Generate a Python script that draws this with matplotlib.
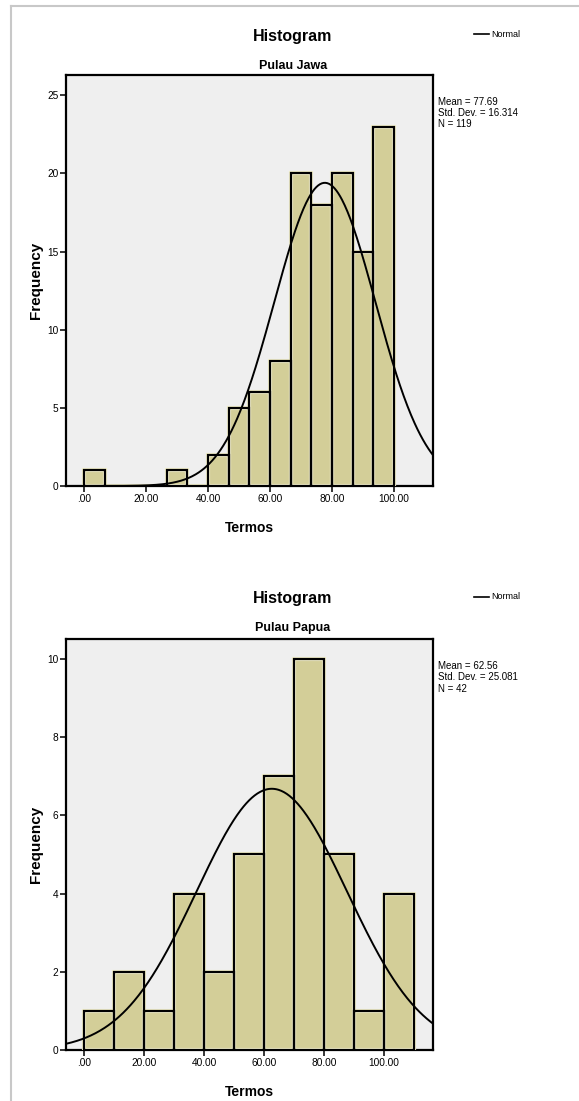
import numpy as np
import matplotlib
matplotlib.use("Agg")
import matplotlib.pyplot as plt
from matplotlib.lines import Line2D
from matplotlib.ticker import FuncFormatter

plt.rcParams['font.family'] = ['Liberation Sans', 'DejaVu Sans']

# Pulau Jawa
jawa_counts = [1, 0, 0, 0, 1, 0, 2, 5, 6, 8, 20, 18, 20, 15, 23]
jawa_bin_start = 0.0
jawa_bin_width = 100.0 / 15
jawa_mean = 77.69
jawa_sd = 16.314
jawa_n = 119
jawa_yticks = [0, 5, 10, 15, 20, 25]

# Pulau Papua
papua_counts = [1, 2, 1, 4, 2, 5, 7, 10, 5, 1, 4]
papua_bin_start = 0.0
papua_bin_width = 10.0
papua_mean = 62.56
papua_sd = 25.081
papua_n = 42
papua_yticks = [0, 2, 4, 6, 8, 10]

xticks = [0, 20, 40, 60, 80, 100]

bar_fill = '#D3CE98'
bg = '#EFEFEF'


def xfmt(v, pos):
    s = f"{v:.2f}"
    return s[1:] if s.startswith("0") else s


def draw_hist(ax, counts, start, width, mean, sd, n, xlim, ylim, yticks):
    counts = np.array(counts)
    lefts = start + width * np.arange(len(counts))
    ax.set_facecolor(bg)
    ax.bar(lefts, counts, width=width, align='edge', color=bar_fill,
           edgecolor='none', zorder=2)
    # light rim around the bars
    ax.bar(lefts, counts, width=width, align='edge', fill=False,
           edgecolor='#F3F0CC', linewidth=3.0, zorder=3)
    ax.bar(lefts, counts, width=width, align='edge', fill=False,
           edgecolor='black', linewidth=1.6, zorder=4)
    xs = np.linspace(xlim[0], xlim[1], 400)
    pdf = np.exp(-0.5 * ((xs - mean) / sd) ** 2) / (sd * np.sqrt(2 * np.pi))
    ax.plot(xs, n * width * pdf, color='black', lw=1.4, zorder=5)
    ax.set_xlim(*xlim)
    ax.set_ylim(*ylim)
    ax.set_xticks(xticks)
    ax.set_yticks(yticks)
    ax.xaxis.set_major_formatter(FuncFormatter(xfmt))
    for s in ax.spines.values():
        s.set_linewidth(1.6)
    ax.tick_params(length=4.5, width=1.1, labelsize=7.3, pad=1)
    ax.set_xlabel('Termos', fontsize=10, fontweight='bold')
    ax.set_ylabel('Frequency', fontsize=11, fontweight='bold')
    ax.xaxis.set_label_coords(0.5, -0.085)
    ax.yaxis.set_label_coords(-0.063, 0.5)


fig = plt.figure(figsize=(5.79, 11.01), dpi=100)

ax1 = fig.add_axes([0.114, 0.5586, 0.634, 0.3733])
draw_hist(ax1, jawa_counts, jawa_bin_start, jawa_bin_width, jawa_mean,
          jawa_sd, jawa_n, (-5.8, 112.6), (0, 26.3), jawa_yticks)

ax2 = fig.add_axes([0.114, 0.0463, 0.634, 0.3733])
draw_hist(ax2, papua_counts, papua_bin_start, papua_bin_width, papua_mean,
          papua_sd, papua_n, (-6, 116.3), (0, 10.51), papua_yticks)

# titles, legend and stats
for (ty, sty, name, ly, st_y, mean, sd, n) in [
        (0.967, 0.940, 'Pulau Jawa', 0.969, 0.912, jawa_mean, jawa_sd, jawa_n),
        (0.456, 0.4296, 'Pulau Papua', 0.4578, 0.3995, papua_mean, papua_sd, papua_n)]:
    fig.text(0.506, ty, 'Histogram', ha='center', va='center',
             fontsize=11.5, fontweight='bold')
    fig.text(0.506, sty, name, ha='center', va='center',
             fontsize=9, fontweight='bold')
    fig.add_artist(Line2D([474 / 579, 489 / 579], [ly, ly], color='black', lw=1.2))
    fig.text(491 / 579, ly, 'Normal', ha='left', va='center', fontsize=6.5)
    fig.text(438 / 579, st_y, f"Mean = {mean:.2f}\nStd. Dev. = {sd:.3f}\nN = {n}",
             ha='left', va='top', fontsize=7, linespacing=1.15)

# screenshot frame
fig.add_artist(Line2D([11 / 579, 1.0], [1 - 6 / 1101, 1 - 6 / 1101],
                      color='#C8C8C8', lw=1.5))
fig.add_artist(Line2D([11 / 579, 11 / 579], [0, 1 - 6 / 1101],
                      color='#C8C8C8', lw=1.5))

fig.savefig('out.png', dpi=100)
